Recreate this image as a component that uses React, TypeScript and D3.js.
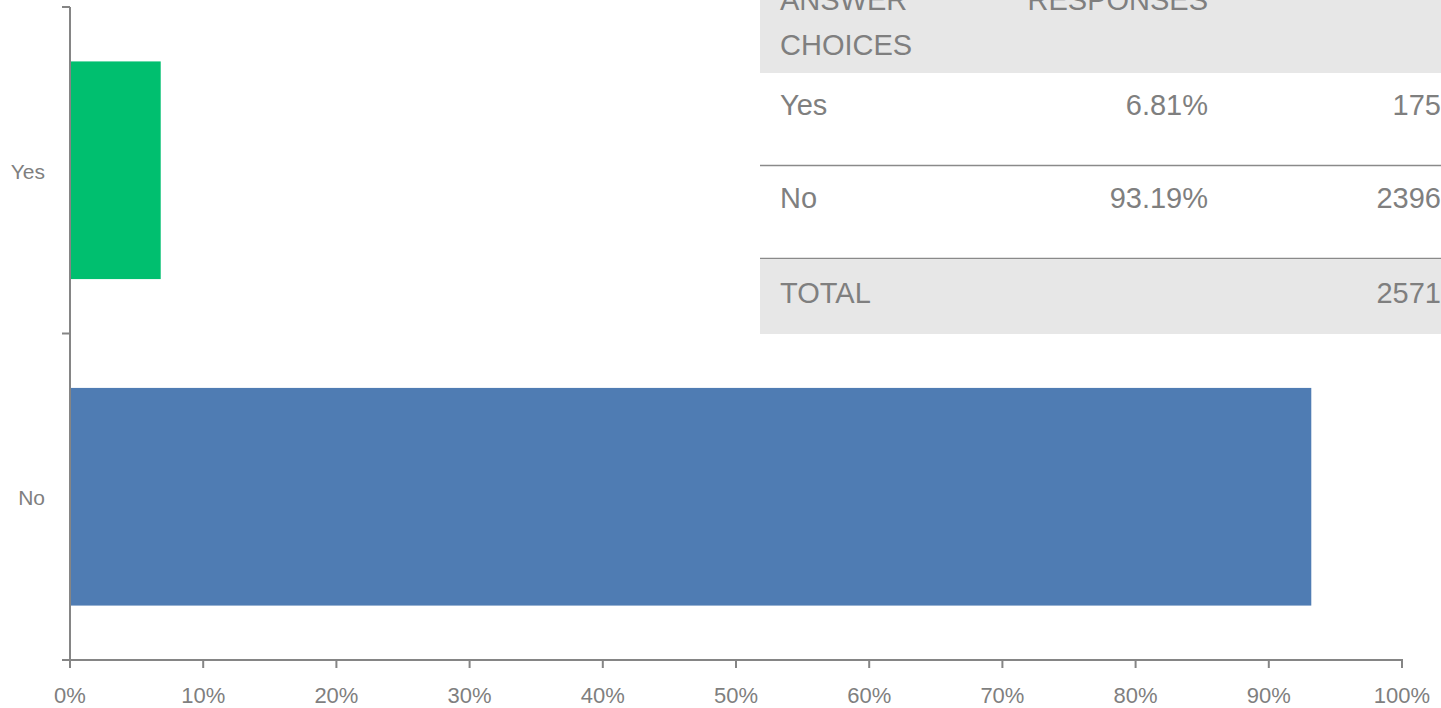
import React from 'react'
import * as d3 from 'd3'

const categories = ['Yes', 'No']
const percents = [6.81, 93.19]
const counts = [175, 2396]
const total = 2571
const barColors = ['#00BF6F', '#4F7CB3']
const xTicks = [0, 10, 20, 30, 40, 50, 60, 70, 80, 90, 100]

const W = 1441
const H = 708
const margin = { top: 7, right: 39, bottom: 48, left: 70 }
const axisColor = '#858585'
const textColor = '#7f7f7f'
const tableFont = '"Liberation Sans", Arial, sans-serif'

export default function App() {
  const x = d3.scaleLinear().domain([0, 100]).range([margin.left, W - margin.right])
  const y = d3.scaleBand<string>()
    .domain(categories)
    .range([margin.top, H - margin.bottom])
    .paddingInner(1 / 3)
    .paddingOuter(1 / 6)
  const bottom = H - margin.bottom
  const step = y.step()
  const yBounds = [margin.top, margin.top + step, bottom]

  // table rows
  const tx = 760
  const colPct = 1208
  const colCount = 1441
  const rowTop = [73, 166]
  const rowH = 92

  return (
    <div style={{ position: 'absolute', left: 0, top: 0 }}>
      <svg width={W} height={H} style={{ display: 'block', fontFamily: '"Liberation Sans", Arial, sans-serif' }}>
        {categories.map((c, i) => (
          <rect key={c} x={x(0)} y={y(c)} width={x(percents[i]) - x(0)} height={y.bandwidth()} fill={barColors[i]} />
        ))}

        {/* y axis */}
        <line x1={margin.left} x2={margin.left} y1={margin.top} y2={bottom} stroke={axisColor} strokeWidth={2} />
        {yBounds.map((v, i) => (
          <line key={i} x1={margin.left - 8} x2={margin.left} y1={v} y2={v} stroke={axisColor} strokeWidth={2} />
        ))}
        {categories.map(c => (
          <text key={c} x={45} y={(y(c) ?? 0) + y.bandwidth() / 2 + 1} dy="0.35em" textAnchor="end" fontSize={21} fill={textColor}>{c}</text>
        ))}

        {/* x axis */}
        <line x1={x(0) - 1} x2={x(100) + 1} y1={bottom} y2={bottom} stroke={axisColor} strokeWidth={2} />
        {xTicks.map(t => (
          <g key={t}>
            <line x1={x(t)} x2={x(t)} y1={bottom} y2={bottom + 8} stroke={axisColor} strokeWidth={2} />
            <text x={x(t)} y={703} textAnchor="middle" fontSize={22} fill={textColor}>{t}%</text>
          </g>
        ))}

        {/* table */}
        <g fontFamily={tableFont} fill={textColor} fontSize={29}>
          <rect x={tx} y={0} width={W - tx} height={73} fill="#e7e7e7" />
          <text x={780} y={10}>ANSWER</text>
          <text x={780} y={55}>CHOICES</text>
          <text x={colPct} y={10} textAnchor="end">RESPONSES</text>
          {categories.map((c, i) => (
            <g key={c}>
              <text x={780} y={rowTop[i] + 42}>{c}</text>
              <text x={colPct} y={rowTop[i] + 42} textAnchor="end">{percents[i].toFixed(2)}%</text>
              <text x={colCount} y={rowTop[i] + 42} textAnchor="end">{counts[i]}</text>
              <line x1={tx} x2={W} y1={rowTop[i] + rowH + 0.5} y2={rowTop[i] + rowH + 0.5} stroke="#8a8a8a" strokeWidth={1.5} />
            </g>
          ))}
          <rect x={tx} y={259} width={W - tx} height={75} fill="#e7e7e7" />
          <text x={780} y={303}>TOTAL</text>
          <text x={colCount} y={303} textAnchor="end">{total}</text>
        </g>
      </svg>
    </div>
  )
}
